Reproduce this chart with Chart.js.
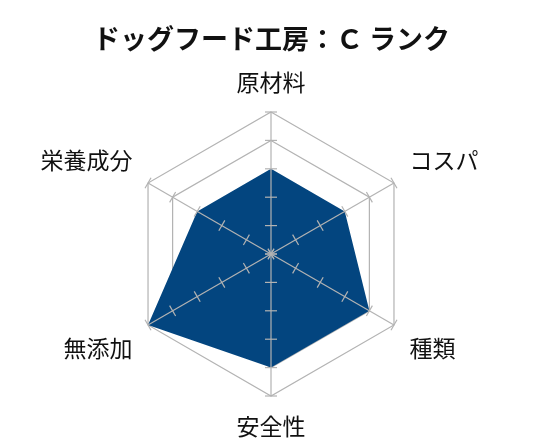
<!DOCTYPE html>
<html>
<head>
<meta charset="utf-8">
<script src="https://cdn.jsdelivr.net/npm/chart.js@4"></script>
<style>
html,body{margin:0;padding:0;background:#fff;}
#wrap{width:549px;height:445px;position:relative;}
</style>
</head>
<body>
<div id="wrap"><canvas id="c"></canvas></div>
<script>
const chartTitle = 'ドッグフード工房：Ｃ ランク';
const categories = ['原材料', 'コスパ', '種類', '安全性', '無添加', '栄養成分'];
const scores = [3, 3, 4, 4, 5, 3];
const scaleMin = 0;
const scaleMax = 5;
const tickValues = [0, 1, 2, 3, 4, 5];
const gridLevels = [4, 5];

const GRAY = '#b3b3b3';
const FONT = '"Noto Sans CJK JP", "Noto Sans", sans-serif';

const spokesPlugin = {
  id: 'spokes',
  afterDatasetsDraw(chart) {
    const s = chart.scales.r;
    const ctx = chart.ctx;
    ctx.save();
    ctx.strokeStyle = GRAY;
    ctx.lineWidth = 1.2;
    for (let i = 0; i < categories.length; i++) {
      const end = s.getPointPosition(i, s.getDistanceFromCenterForValue(scaleMax));
      ctx.beginPath();
      ctx.moveTo(s.xCenter, s.yCenter);
      ctx.lineTo(end.x, end.y);
      ctx.stroke();
      for (const v of tickValues) {
        const p = s.getPointPosition(i, s.getDistanceFromCenterForValue(v));
        const a = p.angle;
        const nx = -Math.sin(a), ny = Math.cos(a);
        const L = 6;
        ctx.beginPath();
        ctx.moveTo(p.x - nx * L, p.y - ny * L);
        ctx.lineTo(p.x + nx * L, p.y + ny * L);
        ctx.stroke();
      }
    }
    ctx.restore();
  }
};

new Chart(document.getElementById('c'), {
  type: 'radar',
  data: {
    labels: categories,
    datasets: [{
      data: scores,
      backgroundColor: '#03457f',
      borderWidth: 0,
      pointRadius: 0,
      fill: true
    }]
  },
  options: {
    responsive: true,
    maintainAspectRatio: false,
    animation: false,
    layout: { padding: { top: 0, bottom: 5, left: 0, right: 6 } },
    plugins: {
      legend: { display: false },
      tooltip: { enabled: false },
      title: {
        display: true,
        text: chartTitle,
        color: '#111',
        font: { family: FONT, size: 27, weight: 'bold' },
        padding: { top: 23, bottom: 13 }
      }
    },
    scales: {
      r: {
        min: scaleMin,
        max: scaleMax,
        ticks: { display: false, stepSize: 1 },
        angleLines: { display: false },
        grid: {
          lineWidth: 1.2,
          color: (ctx) => gridLevels.includes(ctx.tick.value) ? GRAY : 'rgba(0,0,0,0)'
        },
        pointLabels: {
          color: '#111',
          font: { family: FONT, size: 23 },
          padding: (ctx) => (ctx.index % 3 === 0 ? 16 : 18)
        }
      }
    }
  },
  plugins: [spokesPlugin]
});
</script>
</body>
</html>
